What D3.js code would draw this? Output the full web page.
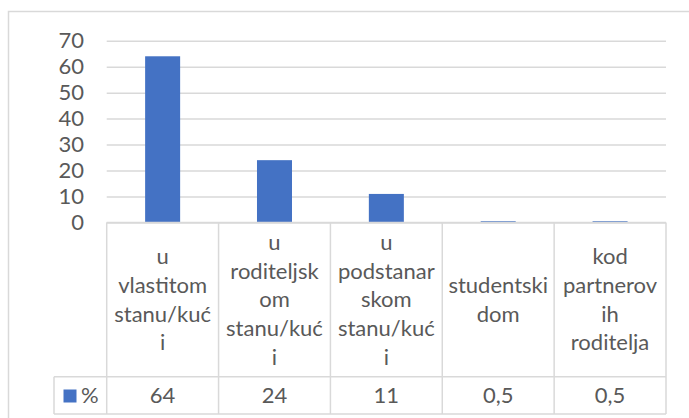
<!DOCTYPE html>
<html>
<head>
<meta charset="utf-8">
<script src="https://cdn.jsdelivr.net/npm/d3@7"></script>
<style>
  body { margin: 0; background: #fff; }
  svg { display: block; font-family: Lato, "Open Sans", sans-serif; }
</style>
</head>
<body>
<svg id="chart" width="689" height="418"></svg>
<script>
// data
const categories = ['u vlastitom stanu/kući', 'u roditeljskom stanu/kući', 'u podstanarskom stanu/kući', 'studentski dom', 'kod partnerovih roditelja'];
// the way excel wrapped the labels inside the table cells
const categoryLines = [
  ['u', 'vlastitom', 'stanu/kuć', 'i'],
  ['u', 'roditeljsk', 'om', 'stanu/kuć', 'i'],
  ['u', 'podstanar', 'skom', 'stanu/kuć', 'i'],
  ['studentski', 'dom'],
  ['kod', 'partnerov', 'ih', 'roditelja']
];
const values = [64, 24, 11, 0.5, 0.5];
const seriesName = '%';
const yTicks = [0, 10, 20, 30, 40, 50, 60, 70];

const textColor = '#595959';
const lineColor = '#d9d9d9';
const barColor = '#4472c4';
const fontSize = 22;

const svg = d3.select('#chart');

// outer chart border (runs past the window on the right and bottom)
svg.append('rect')
  .attr('x', 8.5).attr('y', 11.5)
  .attr('width', 700).attr('height', 420)
  .style('fill', 'none')
  .style('stroke', lineColor)
  .style('stroke-width', 1.5);

const left = 106.7, right = 666;
const x = d3.scaleBand().domain(categories).range([left, right]);
const y = d3.scaleLinear().domain([0, 70]).range([222.5, 40.7]);

// gridlines
const grid = svg.append('g')
  .attr('transform', 'translate(' + left + ',0)')
  .call(d3.axisLeft(y).tickValues(yTicks).tickSize(-(right - left)).tickFormat(''));
grid.select('.domain').remove();
grid.selectAll('line').style('stroke', lineColor).style('stroke-width', 1.5);

// y tick labels
const yAxis = svg.append('g')
  .attr('transform', 'translate(84,0)')
  .call(d3.axisLeft(y).tickValues(yTicks).tickSize(0).tickPadding(0));
yAxis.select('.domain').remove();
yAxis.selectAll('text')
  .style('font-family', 'Lato, sans-serif')
  .style('font-size', fontSize + 'px')
  .style('fill', textColor);

// bars
const barW = x.bandwidth() * 0.313;
svg.append('g').selectAll('rect')
  .data(values)
  .join('rect')
  .attr('x', (d, i) => x(categories[i]) + (x.bandwidth() - barW) / 2)
  .attr('y', d => y(d))
  .attr('width', barW)
  .attr('height', d => y(0) - y(d))
  .style('fill', barColor);

// data table
const tableTop = y(0), rowSep = 376.7, tableBottom = 414, legendLeft = 54;
const table = svg.append('g')
  .style('stroke', lineColor)
  .style('stroke-width', 1.5);

table.append('line')
  .attr('x1', left).attr('x2', right)
  .attr('y1', tableTop).attr('y2', tableTop);
table.append('line')
  .attr('x1', legendLeft).attr('x2', right)
  .attr('y1', rowSep).attr('y2', rowSep);
table.append('line')
  .attr('x1', legendLeft).attr('x2', right)
  .attr('y1', tableBottom).attr('y2', tableBottom);
table.append('line')
  .attr('x1', legendLeft).attr('x2', legendLeft)
  .attr('y1', rowSep).attr('y2', tableBottom);
const edges = categories.map(c => x(c)).concat([right]);
table.selectAll('.vline')
  .data(edges)
  .join('line')
  .attr('class', 'vline')
  .attr('x1', d => d).attr('x2', d => d)
  .attr('y1', tableTop).attr('y2', tableBottom);

// category labels in the table
const lineH = 28.7;
const midCat = (tableTop + rowSep) / 2;
svg.append('g').selectAll('text')
  .data(categories)
  .join('text')
  .attr('text-anchor', 'middle')
  .style('font-size', fontSize + 'px')
  .style('fill', textColor)
  .each(function(c, i) {
    const lines = categoryLines[i];
    const cx = x(c) + x.bandwidth() / 2;
    const y0 = midCat - (lines.length - 1) * lineH / 2;
    d3.select(this).selectAll('tspan')
      .data(lines)
      .join('tspan')
      .attr('x', cx)
      .attr('y', (d, j) => y0 + j * lineH)
      .attr('dy', '0.35em')
      .text(d => d);
  });

// values row
const fmt = d3.formatLocale({decimal: ',', thousands: '.', grouping: [3], currency: ['', '']}).format('~g');
const midVal = (rowSep + tableBottom) / 2;
svg.append('g').selectAll('text')
  .data(values)
  .join('text')
  .attr('x', (d, i) => x(categories[i]) + x.bandwidth() / 2)
  .attr('y', midVal)
  .attr('dy', '0.35em')
  .attr('text-anchor', 'middle')
  .style('font-size', fontSize + 'px')
  .style('fill', textColor)
  .text(d => fmt(d));

// legend key in the table
svg.append('rect')
  .attr('x', 63.5).attr('y', 389.5)
  .attr('width', 13).attr('height', 13)
  .style('fill', barColor);
svg.append('text')
  .attr('x', 81)
  .attr('y', midVal)
  .attr('dy', '0.35em')
  .style('font-size', fontSize + 'px')
  .style('fill', textColor)
  .text(seriesName);
</script>
</body>
</html>
